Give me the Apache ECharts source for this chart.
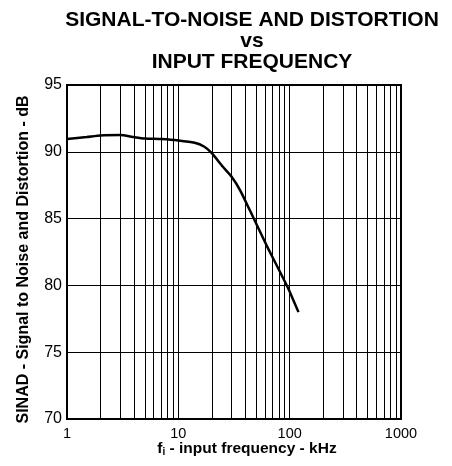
<!DOCTYPE html>
<html>
<head>
<meta charset="utf-8">
<script src="https://cdn.jsdelivr.net/npm/echarts@6/dist/echarts.min.js"></script>
<style>
  html, body { margin: 0; padding: 0; background: #fff; }
  #main { width: 452px; height: 466px; }
</style>
</head>
<body>
<div id="main"></div>
<script>
// 数据：输入频率 (kHz) 与 SINAD (dB)
var freq = [1, 1.5, 2, 3, 4, 5, 7, 10, 14, 17, 20, 25, 30, 36, 47, 62, 82, 98, 120];
var sinad = [90.96, 91.1, 91.22, 91.25, 91.1, 91.0, 90.95, 90.85, 90.68, 90.4, 89.9, 88.9, 88.15, 87.1, 85.1, 83.0, 81.0, 79.7, 78.0];
var yTicks = [70, 75, 80, 85, 90, 95];
var minorLines = [2, 3, 4, 5, 6, 7, 8, 9, 20, 30, 40, 50, 60, 70, 80, 90, 200, 300, 400, 500, 600, 700, 800, 900];

var font = 'Liberation Sans, Arial, Helvetica, sans-serif';
var myChart = echarts.init(document.getElementById('main'));

var option = {
    animation: false,
    backgroundColor: '#fff',
    title: {
        text: 'SIGNAL-TO-NOISE AND DISTORTION\nvs\nINPUT FREQUENCY',
        left: 247,
        top: 5,
        textAlign: 'center',
        textStyle: {
            fontFamily: font,
            fontSize: 21,
            fontWeight: 'bold',
            color: '#000',
            lineHeight: 21
        }
    },
    grid: {
        left: 67,
        right: 51,
        top: 85,
        bottom: 47,
        outerBoundsMode: 'none',
        show: true,
        borderColor: '#000',
        borderWidth: 2
    },
    xAxis: {
        type: 'log',
        logBase: 10,
        min: 1,
        max: 1000,
        name: '{a|f}{s|i}{a| - input frequency - kHz}',
        nameLocation: 'middle',
        nameGap: 21,
        nameMoveOverlap: false,
        nameTextStyle: {
            padding: [0, 0, 0, 26],
            rich: {
                a: { fontFamily: font, fontSize: 15.5, fontWeight: 'bold', color: '#000', lineHeight: 17 },
                s: { fontFamily: font, fontSize: 10, fontWeight: 'bold', color: '#000', lineHeight: 17, verticalAlign: 'bottom', padding: [9, 0, 0, 0] }
            }
        },
        axisLine: { lineStyle: { color: '#000', width: 2 } },
        axisTick: { show: false },
        axisLabel: {
            fontFamily: font, fontSize: 14.5, color: '#000', margin: 7,
            formatter: function (v) { return String(v); }
        },
        splitLine: { show: true, lineStyle: { color: '#000', width: 1 } }
    },
    yAxis: {
        type: 'value',
        min: yTicks[0],
        max: yTicks[yTicks.length - 1],
        interval: 5,
        name: 'SINAD - Signal to Noise and Distortion - dB',
        nameLocation: 'middle',
        nameGap: 35,
        nameMoveOverlap: false,
        nameTextStyle: {
            fontFamily: font, fontSize: 16, fontWeight: 'bold', color: '#000',
            padding: [0, 15, 0, 0]
        },
        axisLine: { lineStyle: { color: '#000', width: 2 } },
        axisTick: { show: false },
        axisLabel: { fontFamily: font, fontSize: 16, color: '#000', margin: 5 },
        splitLine: { show: true, lineStyle: { color: '#000', width: 1 } }
    },
    series: [
        {
            type: 'line',
            data: [],
            silent: true,
            markLine: {
                silent: true,
                symbol: 'none',
                label: { show: false },
                lineStyle: { color: '#000', width: 1, type: 'solid' },
                data: minorLines.map(function (v) { return { xAxis: v }; })
            }
        },
        {
            type: 'line',
            data: freq.map(function (f, i) { return [f, sinad[i]]; }),
            smooth: 0.2,
            symbol: 'none',
            lineStyle: { color: '#000', width: 2.5 },
            z: 5
        }
    ]
};

myChart.setOption(option);
</script>
</body>
</html>
